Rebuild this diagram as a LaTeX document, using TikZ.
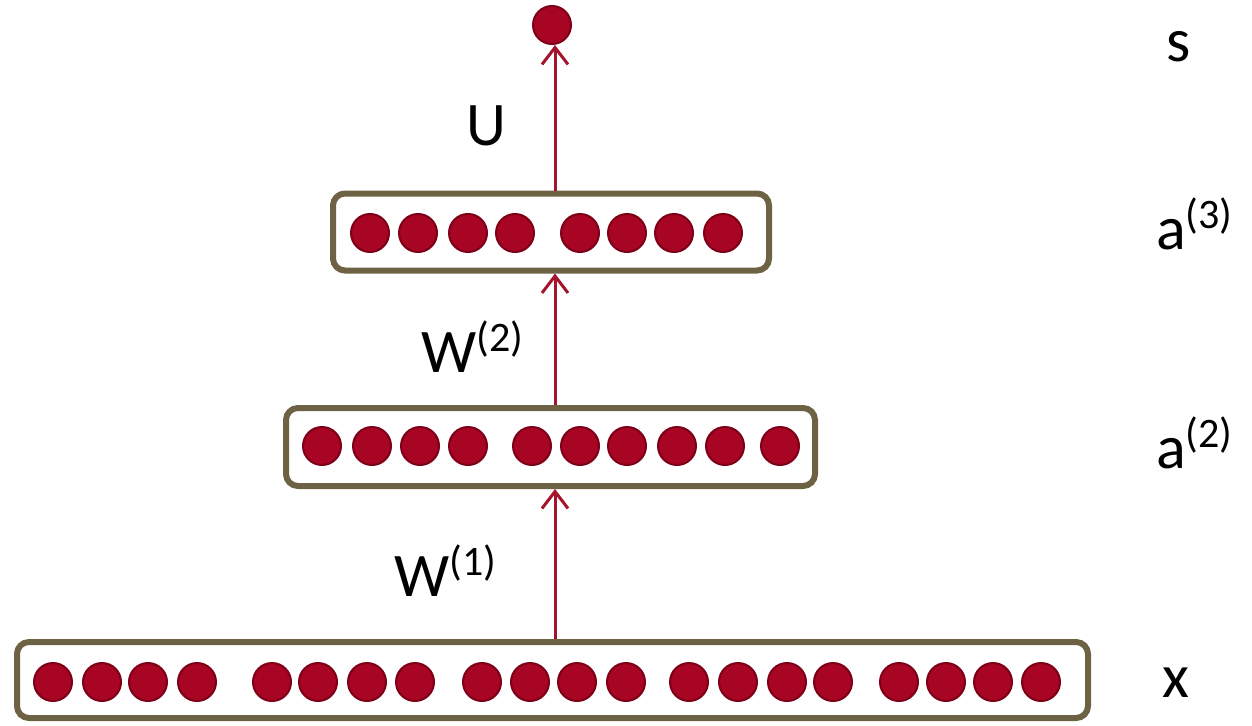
\documentclass[tikz,border=0pt]{standalone}
\usepackage{fontspec}
\setmainfont{Carlito}
\usetikzlibrary{arrows.meta}
\definecolor{boxc}{RGB}{110,98,68}
\definecolor{neur}{RGB}{168,4,36}
\definecolor{neurd}{RGB}{125,0,24}
\definecolor{arrc}{RGB}{165,20,45}
\newcommand\supx[1]{\raisebox{21pt}{\fontsize{42}{42}\selectfont #1}}
\begin{document}
\begin{tikzpicture}[x=1pt,y=-1pt,
  layer/.style={draw=boxc, line width=6pt, rounded corners=12pt, inner sep=0pt},
  neuron/.style={circle, fill=neur, draw=neurd, line width=2pt, minimum size=38pt, inner sep=0pt},
  conn/.style={draw=arrc, line width=3pt, -{Straight Barb[length=17pt,width=26pt,line width=3pt]}},
  lbl/.style={anchor=base west, inner sep=0pt, font=\fontsize{62}{62}\selectfont}]
\useasboundingbox (0,0) rectangle (1252,725);
% layers
\node[layer, minimum width=1071pt, minimum height=76pt] (xl) at (552.5,680) {};
\node[layer, minimum width=529pt, minimum height=78pt] (a2l) at (550.5,447) {};
\node[layer, minimum width=436pt, minimum height=77pt] (a3l) at (551,232) {};
\node[neuron] (s) at (552,25) {};
% neurons
\foreach \i/\xx in {1/53,2/102,3/148,4/197,5/272,6/318,7/367,8/415,9/482,10/530,11/577,12/626,13/689,14/738,15/787,16/833,17/899,18/946,19/993,20/1041}
  \node[neuron] (x\i) at (\xx,682) {};
\foreach \i/\xx in {1/322,2/372,3/420,4/468,5/532,6/580,7/627,8/677,9/725,10/780}
  \node[neuron] (h\i) at (\xx,446) {};
\foreach \i/\xx in {1/370,2/418,3/468,4/515,5/580,6/627,7/674,8/723}
  \node[neuron] (g\i) at (\xx,233) {};
% connectors
\coordinate (ax) at (555,0);
\draw[conn] (xl.north -| ax) -- (a2l.south -| ax);
\draw[conn] (a2l.north -| ax) -- (a3l.south -| ax);
\draw[conn] (a3l.north -| ax) -- (s.south -| ax);
% labels
\node[lbl] (U) at (466,145) {U};
\node[lbl] (W2) at (421,372) {W\supx{(2)}};
\node[lbl] (W1) at (394,596) {W\supx{(1)}};
\node[lbl] (ls) at (1166,61) {s};
\node[lbl] (la3) at (1156,249) {a\supx{(3)}};
\node[lbl] (la2) at (1156,468) {a\supx{(2)}};
\node[lbl] (lx) at (1162,697) {x};
\end{tikzpicture}
\end{document}
